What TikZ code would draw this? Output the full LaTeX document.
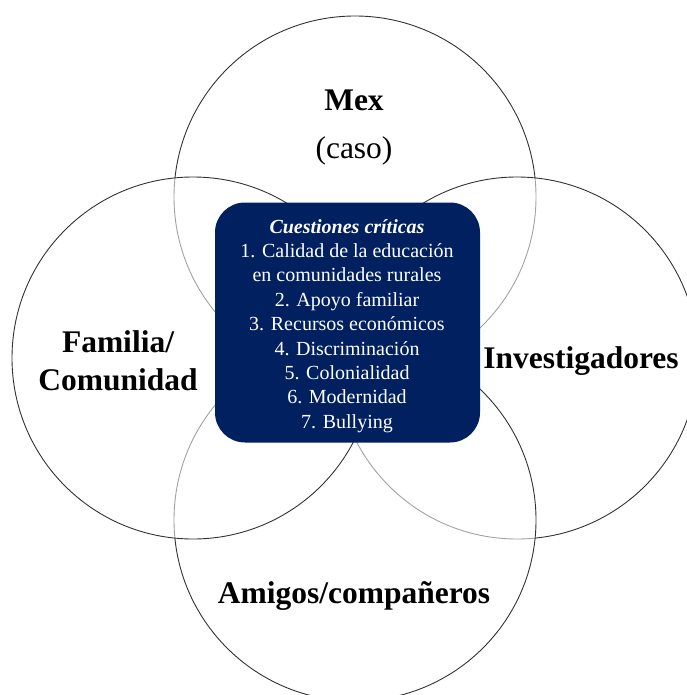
\documentclass[tikz,border=0pt]{standalone}
\usepackage{fontspec}
\setmainfont{Liberation Serif}
\definecolor{navy}{RGB}{0,32,96}
\definecolor{ringline}{RGB}{50,50,50}
\tikzset{
  venn/.style={circle, draw=ringline, line width=0.9pt, fill=white, fill opacity=0.55,
    draw opacity=1, minimum size=362pt, inner sep=0pt},
  biglabel/.style={font=\fontsize{31.5}{38}\selectfont\bfseries, align=center, inner sep=0pt},
  caselabel/.style={font=\fontsize{31.5}{38}\selectfont, align=center, inner sep=0pt},
  critbox/.style={rectangle, rounded corners=30pt, fill=navy, draw=none,
    minimum width=265pt, minimum height=240pt, inner sep=0pt},
  crittext/.style={text=white, align=center, inner sep=0pt,
    font=\fontsize{20}{24.4}\selectfont}
}
\begin{document}
\begin{tikzpicture}[x=1pt,y=-1pt]
\useasboundingbox (0,0) rectangle (686,695);
\fill[white] (0,0) rectangle (686,695);
% circles, in stacking order
\node[venn] (ctop) at (355,197) {};
\node[venn] (cright) at (517,358) {};
\node[venn] (cbottom) at (355,520) {};
\node[venn] (cleft) at (193,358) {};
% labels
\node[biglabel] (mex) at (354,100) {Mex};
\node[caselabel] (caso) at (354,151) {(caso)};
\node[biglabel] (fam) at (118,361) {Familia/\\[0pt]Comunidad};
\node[biglabel] (inv) at (581,361) {Investigadores};
\node[biglabel] (ami) at (354,596) {Amigos/compañeros};
% central box
\node[critbox] (box) at (347.5,322.5) {};
\node[crittext] (crit) at (347,326) {\textbf{\textit{Cuestiones críticas}}\\
1. Calidad de la educación\\
en comunidades rurales\\
2. Apoyo familiar\\
3. Recursos económicos\\
4. Discriminación\\
5. Colonialidad\\
6. Modernidad\\
7. Bullying};
\end{tikzpicture}
\end{document}
